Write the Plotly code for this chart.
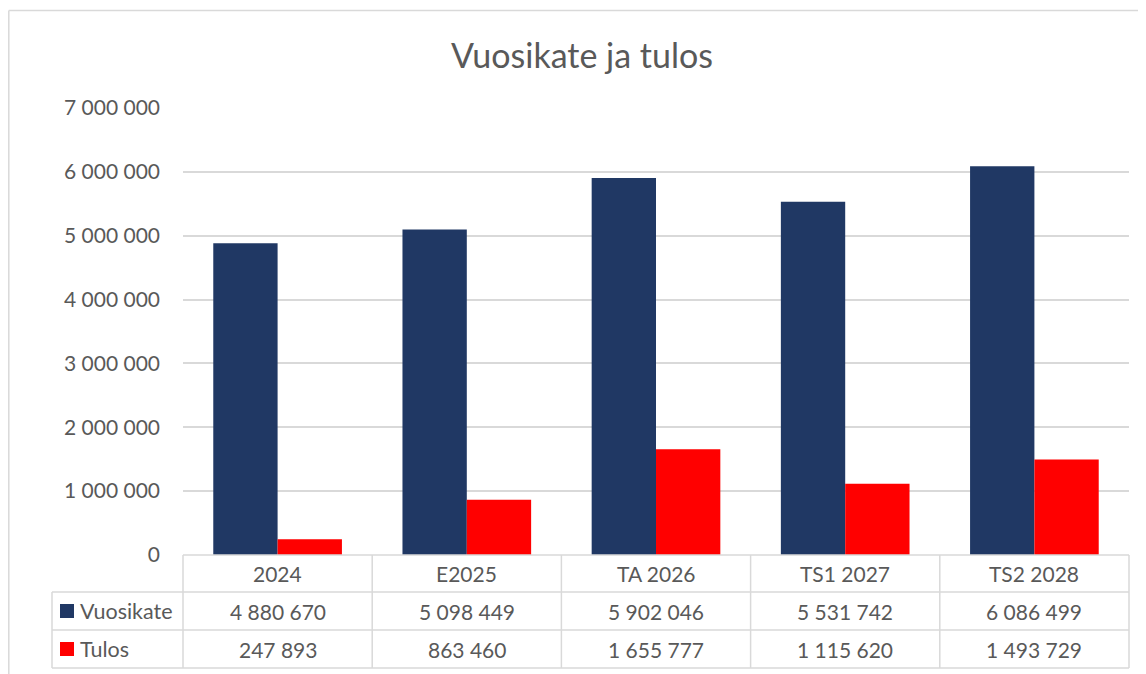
import plotly.graph_objects as go

categories = ["2024", "E2025", "TA 2026", "TS1 2027", "TS2 2028"]
vuosikate = [4880670, 5098449, 5902046, 5531742, 6086499]
tulos = [247893, 863460, 1655777, 1115620, 1493729]
series_names = ["Vuosikate", "Tulos"]
series_colors = ["#203864", "#FF0000"]
y_ticks = [0, 1000000, 2000000, 3000000, 4000000, 5000000, 6000000, 7000000]
title_text = "Vuosikate ja tulos"

OFF = 8  # page body margin
PAGE_W, PAGE_H = 1146, 674
W, H = PAGE_W - OFF, PAGE_H - OFF
PL, PR, PT, PB = 183, 1129, 108, 555
L = PL - OFF
T = PT - OFF
R = W - (PR - OFF)
B = H - (PB - OFF)
PW, PH = PR - PL, PB - PT
FONT = "Lato"
FS = 21
TXT = "#595959"
GRID = "#D9D9D9"


def fmt(v):
    return f"{v:,}".replace(",", " ")


def px(x):
    return (x - PL) / PW


def py(y):
    return (PB - y) / PH


fig = go.Figure()
for name, vals, col in zip(series_names, [vuosikate, tulos], series_colors):
    fig.add_trace(go.Bar(x=categories, y=vals, name=name, marker=dict(color=col, line=dict(width=0))))

shapes = []
annotations = []

# chart border (top and left visible)
shapes.append(dict(type="line", xref="paper", yref="paper", x0=px(8.8), x1=px(1146), y0=py(10.5), y1=py(10.5),
                   line=dict(color=GRID, width=1.5), layer="below"))
shapes.append(dict(type="line", xref="paper", yref="paper", x0=px(8.8), x1=px(8.8), y0=py(10.5), y1=py(674),
                   line=dict(color=GRID, width=1.5), layer="below"))

row_y = [555, 592, 630, 668]
n = len(categories)
left_x = 52
lw = 1.5
shapes.append(dict(type="line", xref="paper", yref="paper", x0=0, x1=1, y0=py(row_y[0]), y1=py(row_y[0]),
                   line=dict(color=GRID, width=lw)))
for ry in row_y[1:]:
    shapes.append(dict(type="line", xref="paper", yref="paper", x0=px(left_x), x1=1, y0=py(ry), y1=py(ry),
                       line=dict(color=GRID, width=lw)))
for i in range(n + 1):
    shapes.append(dict(type="line", xref="paper", yref="paper", x0=i / n, x1=i / n, y0=py(row_y[0]), y1=py(row_y[-1]),
                       line=dict(color=GRID, width=lw)))
shapes.append(dict(type="line", xref="paper", yref="paper", x0=px(left_x), x1=px(left_x), y0=py(row_y[1]), y1=py(row_y[-1]),
                   line=dict(color=GRID, width=lw)))


def ann(x, y, text, size=FS, xanchor="center"):
    return dict(xref="paper", yref="paper", x=x, y=y, xanchor=xanchor, yanchor="middle",
                text=text, showarrow=False, font=dict(family=FONT, size=size, color=TXT))


for i, c in enumerate(categories):
    annotations.append(ann((i + 0.5) / n, py((row_y[0] + row_y[1]) / 2), c))
for r, (name, vals, col) in enumerate(zip(series_names, [vuosikate, tulos], series_colors)):
    yc = (row_y[r + 1] + row_y[r + 2]) / 2
    shapes.append(dict(type="rect", xref="paper", yref="paper", x0=px(60), x1=px(74), y0=py(yc + 7), y1=py(yc - 7),
                       fillcolor=col, line=dict(width=0)))
    annotations.append(ann(px(78), py(yc), name, size=21.5, xanchor="left"))
    for i, v in enumerate(vals):
        annotations.append(ann((i + 0.5) / n, py(yc), fmt(v)))

annotations.append(ann(px(582), py(55), title_text, size=34))

fig.update_layout(
    width=W, height=H,
    margin=dict(l=L, r=R, t=T, b=B),
    paper_bgcolor="white", plot_bgcolor="white",
    barmode="group", bargap=0.32, bargroupgap=0,
    showlegend=False,
    shapes=shapes, annotations=annotations,
    xaxis=dict(range=[-0.5, n - 0.5], showticklabels=False, showgrid=False, zeroline=False, showline=False,
               fixedrange=True),
    yaxis=dict(range=[0, 7000000], tickvals=y_ticks, ticktext=[fmt(v) for v in y_ticks],
               showgrid=True, gridcolor=GRID, gridwidth=1.5, zeroline=False, showline=False,
               ticklabelstandoff=22, tickfont=dict(family=FONT, size=FS, color=TXT), fixedrange=True),
)

fig.write_html("out.html")
